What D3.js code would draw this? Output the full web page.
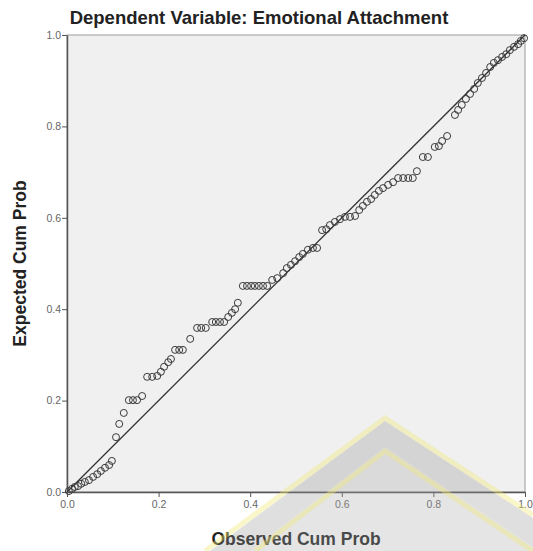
<!DOCTYPE html>
<html>
<head>
<meta charset="utf-8">
<script src="https://cdn.jsdelivr.net/npm/d3@7"></script>
<style>
  body { margin: 0; background: #fff; }
  svg { display: block; font-family: Arial, "Liberation Sans", sans-serif; }
</style>
</head>
<body>
<div id="chart"></div>
<script>
// P-P plot of regression standardized residual
const observed = [0.004, 0.011, 0.017, 0.024, 0.031, 0.039, 0.048, 0.057, 0.066, 0.074, 0.083, 0.092, 0.098,
  0.107, 0.114, 0.124, 0.135, 0.144, 0.153, 0.164, 0.175, 0.186, 0.197, 0.205, 0.212, 0.221, 0.227,
  0.236, 0.245, 0.253, 0.269, 0.284, 0.293, 0.303, 0.317, 0.325, 0.334, 0.343, 0.352, 0.360, 0.367, 0.373,
  0.384, 0.393, 0.402, 0.410, 0.419, 0.428, 0.437, 0.448, 0.459, 0.472, 0.480, 0.489, 0.498, 0.507, 0.515,
  0.526, 0.537, 0.546, 0.557, 0.566, 0.574, 0.585, 0.596, 0.607, 0.618, 0.629, 0.638, 0.646, 0.655, 0.664,
  0.672, 0.681, 0.690, 0.701, 0.712, 0.723, 0.734, 0.745, 0.755, 0.764, 0.777, 0.788, 0.803, 0.812, 0.819,
  0.830, 0.847, 0.854, 0.862, 0.871, 0.880, 0.889, 0.897, 0.906, 0.915, 0.924, 0.932, 0.941, 0.950, 0.959,
  0.967, 0.976, 0.985, 0.991, 0.998];
const expected = [0.002, 0.007, 0.011, 0.013, 0.018, 0.022, 0.026, 0.033, 0.039, 0.046, 0.053, 0.059, 0.068,
  0.120, 0.149, 0.173, 0.201, 0.201, 0.201, 0.210, 0.252, 0.252, 0.254, 0.263, 0.274, 0.284, 0.291,
  0.311, 0.311, 0.311, 0.335, 0.359, 0.359, 0.359, 0.372, 0.372, 0.372, 0.372, 0.383, 0.392, 0.400, 0.414,
  0.451, 0.451, 0.451, 0.451, 0.451, 0.451, 0.451, 0.464, 0.468, 0.479, 0.490, 0.497, 0.505, 0.514, 0.521,
  0.530, 0.534, 0.534, 0.573, 0.575, 0.584, 0.591, 0.597, 0.602, 0.602, 0.604, 0.617, 0.626, 0.635, 0.641,
  0.650, 0.659, 0.665, 0.672, 0.678, 0.687, 0.687, 0.687, 0.687, 0.702, 0.733, 0.733, 0.755, 0.757, 0.768,
  0.779, 0.825, 0.836, 0.847, 0.860, 0.871, 0.882, 0.895, 0.906, 0.917, 0.930, 0.939, 0.945, 0.952, 0.958,
  0.967, 0.974, 0.980, 0.987, 0.993];
const tickValues = [0, 0.2, 0.4, 0.6, 0.8, 1.0];
const refLine = [0, 1];

const width = 533, height = 551;
const margin = { top: 35, right: 8, bottom: 59, left: 67 };

const svg = d3.select("#chart")
  .append("svg")
  .attr("width", width)
  .attr("height", height);

const x = d3.scaleLinear().domain([0, 1]).range([margin.left, width - margin.right]);
const y = d3.scaleLinear().domain([0, 1]).range([height - margin.bottom, margin.top]);

// plot background
svg.append("rect")
  .attr("x", x(0))
  .attr("y", y(1))
  .attr("width", x(1) - x(0))
  .attr("height", y(0) - y(1))
  .attr("fill", "#f0f0f0")
  .attr("stroke", "#9a9a9a")
  .attr("stroke-width", 1);

// axes
const fmt = d3.format(".1f");
const yAxis = svg.append("g")
  .attr("transform", `translate(${x(0)},0)`)
  .call(d3.axisLeft(y).tickValues(tickValues).tickFormat(fmt).tickSize(5).tickSizeOuter(0));
const xAxis = svg.append("g")
  .attr("transform", `translate(0,${y(0)})`)
  .call(d3.axisBottom(x).tickValues(tickValues).tickFormat(fmt).tickSize(5).tickSizeOuter(0));

[xAxis, yAxis].forEach(g => {
  g.select(".domain").attr("stroke", "#555").attr("stroke-width", 1.5);
  g.selectAll(".tick line").attr("stroke", "#555");
  g.selectAll(".tick text")
    .attr("fill", "#666")
    .style("font-size", "10.5px")
    .style("font-family", "Arial, 'Liberation Sans', sans-serif");
});
yAxis.selectAll(".tick text").attr("x", -6);
xAxis.selectAll(".tick text").attr("y", 9);

// reference diagonal
svg.append("line")
  .attr("x1", x(refLine[0])).attr("y1", y(refLine[0]))
  .attr("x2", x(refLine[1])).attr("y2", y(refLine[1]))
  .attr("stroke", "#333")
  .attr("stroke-width", 1.3);

// points
svg.selectAll("circle.pt")
  .data(d3.zip(observed, expected))
  .enter()
  .append("circle")
  .attr("class", "pt")
  .attr("cx", d => x(d[0]))
  .attr("cy", d => y(d[1]))
  .attr("r", 3.5)
  .attr("fill", "none")
  .attr("stroke", "#3a3a3a")
  .attr("stroke-width", 1);

// titles
svg.append("text")
  .attr("x", 259)
  .attr("y", 24)
  .attr("text-anchor", "middle")
  .attr("font-weight", "bold")
  .attr("font-size", 18.5)
  .attr("fill", "#222")
  .text("Dependent Variable: Emotional Attachment");

svg.append("text")
  .attr("x", (x(0) + x(1)) / 2)
  .attr("y", 545)
  .attr("text-anchor", "middle")
  .attr("font-weight", "bold")
  .attr("font-size", 17.5)
  .attr("fill", "#222")
  .text("Observed Cum Prob");

svg.append("text")
  .attr("transform", `translate(26,${(y(0) + y(1)) / 2}) rotate(-90)`)
  .attr("text-anchor", "middle")
  .attr("font-weight", "bold")
  .attr("font-size", 17.5)
  .attr("fill", "#222")
  .text("Expected Cum Prob");

// faint watermark chevron over the lower right
const wm = svg.append("g").attr("pointer-events", "none");
wm.append("path")
  .attr("d", "M385,421 L210,551 L250,551 L385,447 L533,547 L533,518 Z")
  .attr("fill", "rgba(150,150,150,0.3)");
wm.append("path")
  .attr("d", "M385,447 L250,551 L533,551 L533,547 Z")
  .attr("fill", "rgba(170,170,170,0.3)");
wm.append("path")
  .attr("d", "M205,551 L385,418 L533,515")
  .attr("fill", "none")
  .attr("stroke", "rgba(240,232,120,0.4)")
  .attr("stroke-width", 5);
wm.append("path")
  .attr("d", "M255,551 L385,451 L533,551")
  .attr("fill", "none")
  .attr("stroke", "rgba(240,232,120,0.4)")
  .attr("stroke-width", 5);
</script>
</body>
</html>
